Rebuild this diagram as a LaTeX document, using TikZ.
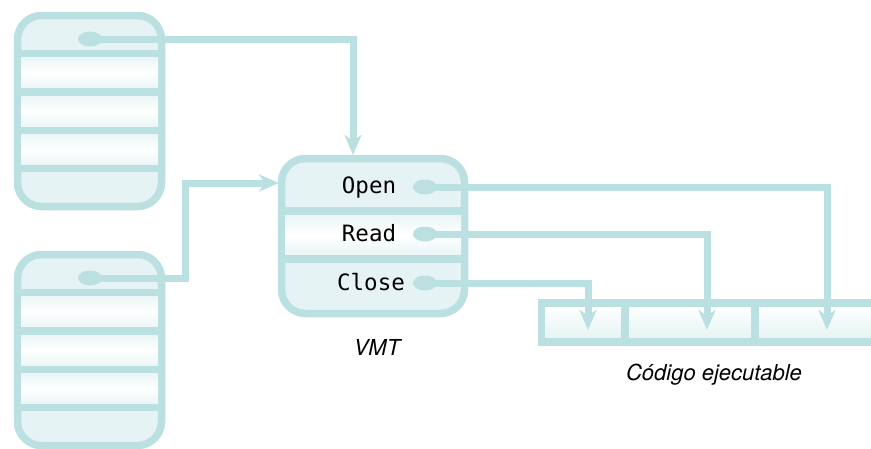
\documentclass[tikz,border=0pt]{standalone}
\usepackage{fontspec}
\setsansfont{TeX Gyre Heros}
\setmonofont{DejaVu Sans Mono}
\usetikzlibrary{arrows.meta,shapes.geometric}
\definecolor{vline}{RGB}{186,224,225}
\definecolor{vfill}{RGB}{230,243,244}

\begin{document}
\begin{tikzpicture}[x=1pt, y=-1pt, line width=7.5pt,
    frame/.style = {draw=vline, fill=vfill, rounded corners=24pt},
    band/.style = {top color=vfill, bottom color=vfill, middle color=white},
    dot/.style = {ellipse, fill=vline, minimum width=24pt, minimum height=15pt, inner sep=0pt},
    link/.style = {draw=vline, line width=7pt, -{Stealth[length=20pt,width=17pt,inset=6pt]}},
    op/.style = {font=\ttfamily\fontsize{22.5}{26}\selectfont, anchor=base},
    lbl/.style = {font=\sffamily\itshape\fontsize{22}{26}\selectfont, anchor=base}]
    \useasboundingbox (0,0) rectangle (871,448);
    \clip (0,0) rectangle (871,448);

    % objects on the left
    \foreach \dy/\n in {0/top,239/bot}{
        \path[frame] (17.5,{15.5+\dy}) rectangle (161.5,{206.5+\dy});
        \foreach \a/\b in {53.5/92,92/130.5,130.5/168.5}
            \shade[band] (21,{\a+\dy}) rectangle (158,{\b+\dy});
        \foreach \s in {53.5,92,130.5,168.5}
            \draw[vline] (17.5,{\s+\dy}) -- (161.5,{\s+\dy});
        \node[dot] (dot-\n) at (90,{39+\dy}) {};
    }

    % VMT
    \path[frame] (281.5,158.5) rectangle (464.5,313.5);
    \shade[band] (285,211) rectangle (461,259);
    \draw[vline] (281.5,211) -- (464.5,211);
    \draw[vline] (281.5,259) -- (464.5,259);
    \node[op] (open) at (369,193) {Open};
    \node[op] (read) at (369,241) {Read};
    \node[op] (close) at (371,290) {Close};
    \node[dot] (p-open) at (425,187) {};
    \node[dot] (p-read) at (425,234) {};
    \node[dot] (p-close) at (425,283) {};
    \node[lbl] (vmt) at (377,355) {VMT};

    % executable code
    \shade[top color=white, bottom color=vfill] (545,306.5) rectangle (880,338.5);
    \draw[vline] (880,303) -| (541.5,342) -- (880,342);
    \draw[vline] (625,303) -- (625,342);
    \draw[vline] (755,303) -- (755,342);
    \node[lbl] (code) at (714,380) {Código ejecutable};

    \coordinate (in-top) at (353,155);
    \coordinate (in-side) at (279,183);
    \coordinate (c1) at (588,330);
    \coordinate (c2) at (707,330);
    \coordinate (c3) at (827,330);

    \draw[link] (dot-top.center) -| (in-top);
    \draw[link] (dot-bot.center) -| (185,183) -- (in-side);
    \draw[link] (p-close.center) -| (c1);
    \draw[link] (p-read.center) -| (c2);
    \draw[link] (p-open.center) -| (c3);
\end{tikzpicture}
\end{document}
